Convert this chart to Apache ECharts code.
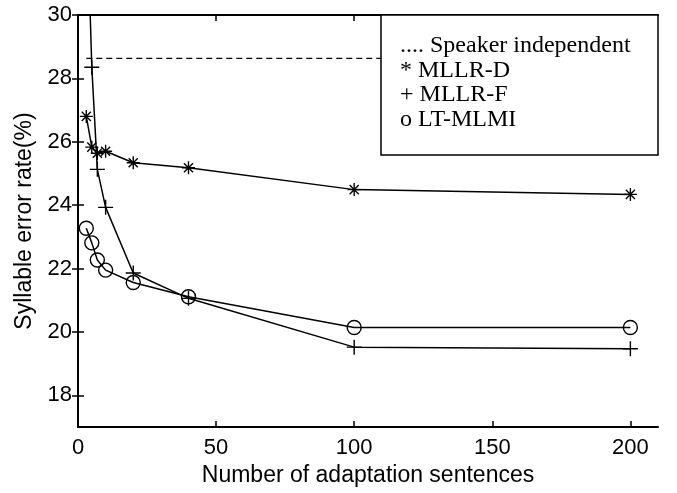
<!DOCTYPE html>
<html>
<head>
<meta charset="utf-8">
<title>Syllable error rate</title>
<script src="https://cdn.jsdelivr.net/npm/echarts@6/dist/echarts.min.js"></script>
<style>
  html, body { margin: 0; padding: 0; background: #fff; }
  #main { width: 677px; height: 493px; }
</style>
</head>
<body>
<div id="main"></div>
<script type="text/javascript">
// number of adaptation sentences
var sentences = [3, 5, 7, 10, 20, 40, 100, 200];
// syllable error rate (%)
var mllrD = [26.8, 25.83, 25.64, 25.7, 25.34, 25.18, 24.49, 24.34];
var mllrF = [34, 28.35, 25.13, 23.93, 21.86, 21.06, 19.52, 19.47];
var ltMlmi = [23.27, 22.81, 22.27, 21.95, 21.56, 21.11, 20.14, 20.14];
// speaker independent baseline, drawn up to the legend box
var siX = [3, 110];
var siVal = 28.63;
var xTicks = [0, 50, 100, 150, 200];
var yTicks = [18, 20, 22, 24, 26, 28, 30];
var legendLines = ['.... Speaker independent', '* MLLR-D', '+ MLLR-F', 'o LT-MLMI'];

function pairs(xs, ys) {
    var out = [];
    for (var i = 0; i < xs.length; i++) out.push([xs[i], ys[i]]);
    return out;
}

var sansFont = '"Liberation Sans", Arial, sans-serif';
var serifFont = '"Liberation Serif", "Times New Roman", serif';
var starPath = 'path://M0,-10L0,10M-10,0L10,0M-7,-7L7,7M-7,7L7,-7';
var plusPath = 'path://M0,-10L0,10M-10,0L10,0';

function markerSeries(data, symbol, size) {
    return {
        type: 'line',
        data: data,
        symbol: symbol,
        symbolSize: size,
        symbolKeepAspect: true,
        showAllSymbol: true,
        lineStyle: { color: '#000', width: 1.5 },
        itemStyle: { color: 'none', borderColor: '#000', borderWidth: 1.4 },
        emphasis: { disabled: true },
        clip: true
    };
}

var boxLine = { color: '#000', width: 2 };
var tickStyle = { color: '#000', width: 1.5 };

var chart = echarts.init(document.getElementById('main'));
var legendGraphics = [{
    type: 'rect',
    shape: { x: 381, y: 15, width: 277, height: 140 },
    style: { fill: '#fff', stroke: '#000', lineWidth: 1.5 },
    z: 100
}];
var lineY = [46, 70.5, 95, 119.5];
for (var k = 0; k < legendLines.length; k++) {
    legendGraphics.push({
        type: 'text',
        x: 400,
        y: lineY[k],
        style: {
            text: legendLines[k],
            font: '24px ' + serifFont,
            fill: '#000',
            verticalAlign: 'middle'
        },
        z: 101
    });
}

var option = {
    animation: false,
    backgroundColor: '#fff',
    grid: { left: 78, right: 19, top: 15, bottom: 66 },
    xAxis: [{
        type: 'value',
        min: 0,
        max: 210,
        interval: 50,
        name: 'Number of adaptation sentences',
        nameLocation: 'middle',
        nameGap: 29,
        nameTextStyle: { fontFamily: sansFont, fontSize: 23, color: '#000' },
        axisLine: { show: true, lineStyle: boxLine },
        axisTick: { inside: true, length: 6, customValues: xTicks, lineStyle: tickStyle },
        axisLabel: { customValues: xTicks, fontFamily: sansFont, fontSize: 22, color: '#000', margin: 10 },
        splitLine: { show: false }
    }, {
        type: 'value',
        position: 'top',
        min: 0,
        max: 210,
        interval: 50,
        axisLine: { show: true, lineStyle: boxLine },
        axisTick: { inside: true, length: 6, customValues: xTicks, lineStyle: tickStyle },
        axisLabel: { show: false },
        splitLine: { show: false }
    }],
    yAxis: [{
        type: 'value',
        min: 17,
        max: 30,
        interval: 1,
        name: 'Syllable error rate(%)',
        nameLocation: 'middle',
        nameGap: 42,
        nameTextStyle: { fontFamily: sansFont, fontSize: 23, color: '#000' },
        axisLine: { show: true, lineStyle: boxLine },
        axisTick: { inside: true, length: 6, customValues: yTicks, lineStyle: tickStyle },
        axisLabel: { customValues: yTicks, fontFamily: sansFont, fontSize: 22, color: '#000', margin: 6 },
        splitLine: { show: false }
    }, {
        type: 'value',
        position: 'right',
        min: 17,
        max: 30,
        interval: 1,
        axisLine: { show: true, lineStyle: boxLine },
        axisTick: { inside: true, length: 6, customValues: yTicks, lineStyle: tickStyle },
        axisLabel: { show: false },
        splitLine: { show: false }
    }],
    series: [
        {
            type: 'line',
            data: [[siX[0], siVal], [siX[1], siVal]],
            symbol: 'none',
            lineStyle: { color: '#000', width: 1.2, type: [6, 4] },
            emphasis: { disabled: true }
        },
        markerSeries(pairs(sentences, mllrD), starPath, 13),
        markerSeries(pairs(sentences, mllrF), plusPath, 15),
        markerSeries(pairs(sentences, ltMlmi), 'circle', 14)
    ],
    graphic: legendGraphics
};
chart.setOption(option);
</script>
</body>
</html>
